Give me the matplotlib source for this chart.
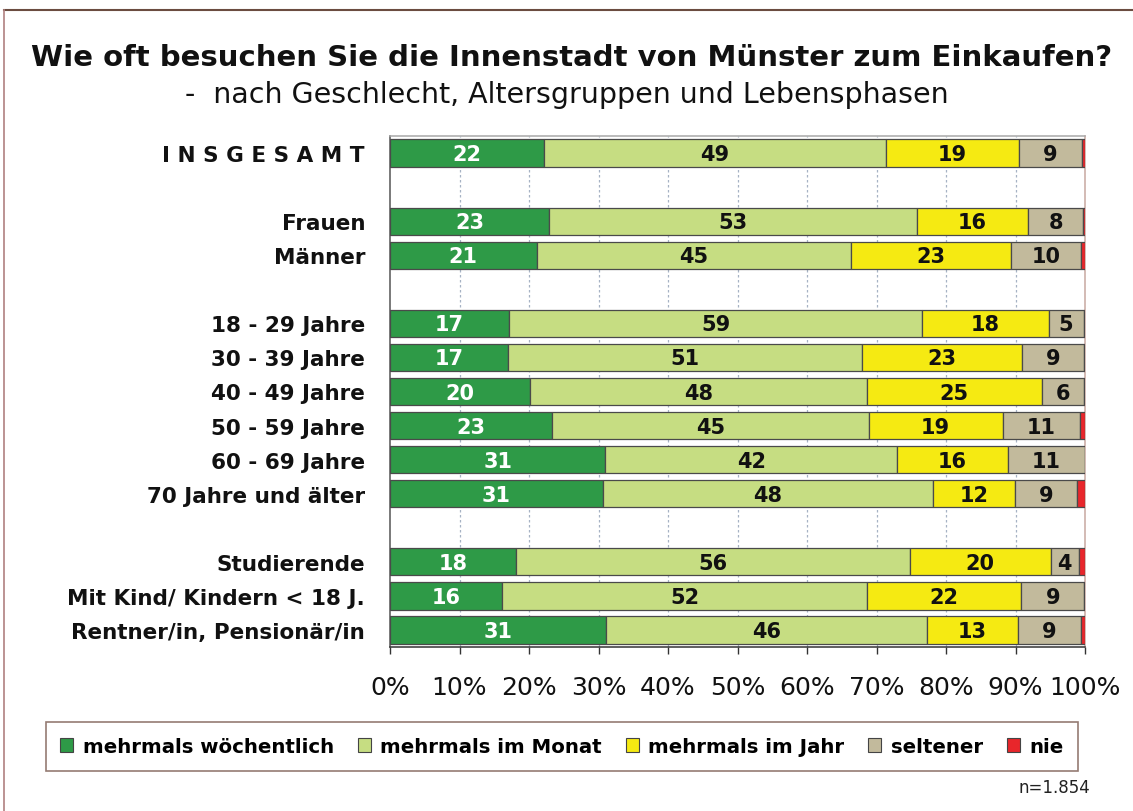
import numpy as np
import matplotlib
matplotlib.use("Agg")
import matplotlib.pyplot as plt
from matplotlib.patches import Patch
from matplotlib.lines import Line2D

# ---------------- data ----------------
groups = [
    ["I N S G E S A M T"],
    ["Frauen", "Männer"],
    ["18 - 29 Jahre", "30 - 39 Jahre", "40 - 49 Jahre", "50 - 59 Jahre",
     "60 - 69 Jahre", "70 Jahre und älter"],
    ["Studierende", "Mit Kind/ Kindern < 18 J.", "Rentner/in, Pensionär/in"],
]
series_names = ["mehrmals wöchentlich", "mehrmals im Monat", "mehrmals im Jahr",
                "seltener", "nie"]
woechentlich = [22, 23, 21, 17, 17, 20, 23, 31, 31, 18, 16, 31]
monat        = [49, 53, 45, 59, 51, 48, 45, 42, 48, 56, 52, 46]
jahr         = [19, 16, 23, 18, 23, 25, 19, 16, 12, 20, 22, 13]
seltener     = [9, 8, 10, 5, 9, 6, 11, 11, 9, 4, 9, 9]
nie          = [0.5, 0.25, 0.6, 0.2, 0.15, 0.15, 0.7, 0.05, 1.2, 0.9, 0.1, 0.6]
xticks = [0, 10, 20, 30, 40, 50, 60, 70, 80, 90, 100]
n_text = "n=1.854"
title = "Wie oft besuchen Sie die Innenstadt von Münster zum Einkaufen?"
subtitle = "-  nach Geschlecht, Altersgruppen und Lebensphasen"

colors = ["#2E9A47", "#C6DD82", "#F5EA12", "#C2BA9C", "#E8262B"]
label_colors = ["white", "#111111", "#111111", "#111111", None]

# ---------------- layout ----------------
W, H = 1133, 812
fig = plt.figure(figsize=(W / 100, H / 100), dpi=100)
fig.patch.set_facecolor("white")

ax = fig.add_axes([390 / W, 1 - 648 / H, 695 / W, (648 - 137) / H])

labels = []
positions = []
pos = 0
for gi, g in enumerate(groups):
    for name in g:
        labels.append(name)
        positions.append(pos)
        pos += 1
    pos += 1  # blank slot between groups
n_slots = pos - 1
positions = np.array(positions)

data = np.array([woechentlich, monat, jahr, seltener, nie], dtype=float)
totals = data.sum(axis=0)
pct = data / totals * 100

left = np.zeros(len(labels))
for si in range(len(series_names)):
    ax.barh(positions, pct[si], left=left, height=0.8, color=colors[si],
            edgecolor="#4A4A4A", linewidth=0.9, zorder=3)
    if label_colors[si] is not None:
        for yi, (l, w, v) in enumerate(zip(left, pct[si], data[si])):
            ax.text(l + w / 2, positions[yi] + 0.03, f"{int(v)}", ha="center",
                    va="center", fontsize=15, fontweight="bold",
                    color=label_colors[si], zorder=4)
    left += pct[si]

ax.set_xlim(0, 100)
ax.set_ylim(n_slots - 0.5, -0.5)
ax.set_yticks(positions)
ax.set_yticklabels(labels, fontsize=15.5, fontweight="bold", color="#111111")
ax.tick_params(axis="y", length=0, pad=18)
ax.set_xticks(xticks)
ax.set_xticklabels([f"{t}%" for t in xticks], fontsize=18, color="#111111")
ax.tick_params(axis="x", direction="out", length=5, width=1, color="#333333",
               pad=15)

for x in xticks[1:-1]:
    ax.axvline(x, color="#A6B2C4", linestyle=(0, (2, 2)), linewidth=0.9, zorder=1)

ax.spines["left"].set_color("#555555")
ax.spines["bottom"].set_color("#333333")
ax.spines["top"].set_color("#A8A8A8")
ax.spines["right"].set_color("#C8A8A0")
for s in ax.spines.values():
    s.set_linewidth(1.1)

# titles
fig.text(572 / W, 1 - 58 / H, title, ha="center", va="center", fontsize=21,
         fontweight="bold", color="#111111")
fig.text(567 / W, 1 - 95 / H, subtitle, ha="center", va="center", fontsize=20.5,
         color="#111111")

# legend
handles = [Patch(facecolor=c, edgecolor="#444444", linewidth=0.8) for c in colors]
leg = fig.legend(handles, series_names, loc="center", ncol=5,
                 bbox_to_anchor=(562 / W, 1 - 747.5 / H),
                 prop={"weight": "bold", "size": 14.2},
                 frameon=True, fancybox=False, edgecolor="#7A5A50",
                 handlelength=0.65, handleheight=0.65, handletextpad=0.5,
                 columnspacing=1.2, borderpad=0.75)
leg.get_frame().set_linewidth(1.2)

fig.text(1090 / W, 1 - 788 / H, n_text, ha="right", va="center", fontsize=12,
         color="#222222")

# figure border (top and left visible)
fig.add_artist(Line2D([4 / W, 1.0], [1 - 11 / H, 1 - 11 / H], transform=fig.transFigure,
                      color="#6B4C40", linewidth=1.5))
fig.add_artist(Line2D([4 / W, 4 / W], [0, 1 - 11 / H], transform=fig.transFigure,
                      color="#B08080", linewidth=1.2))

fig.savefig("out.png", dpi=100, facecolor="white")
